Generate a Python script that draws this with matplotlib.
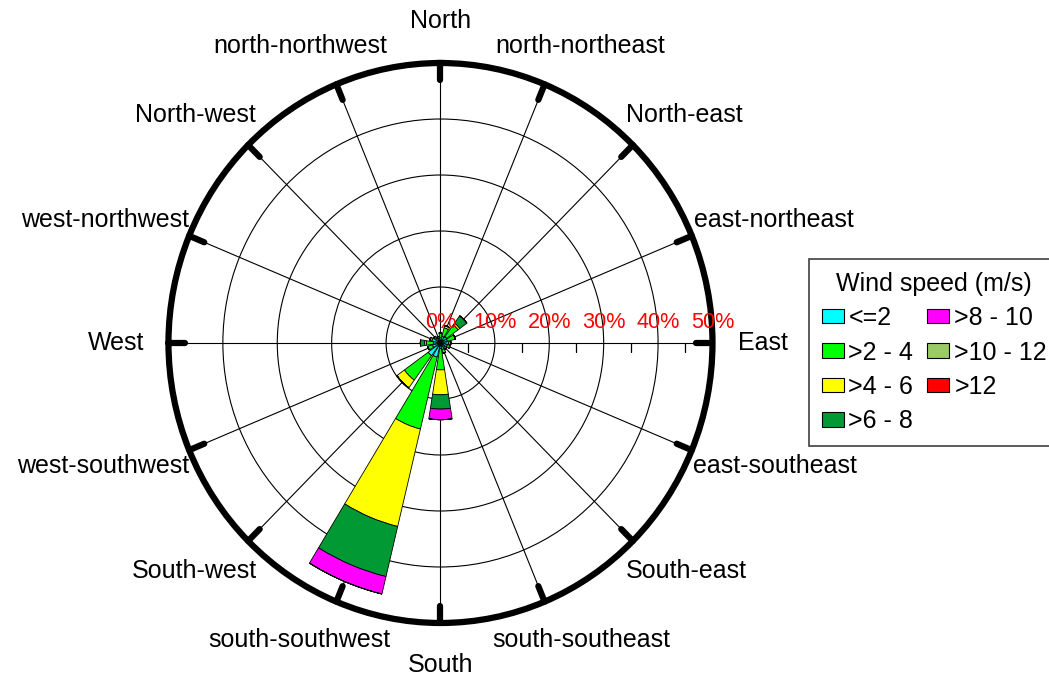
import numpy as np
import matplotlib.pyplot as plt
from matplotlib.patches import Patch

plt.rcParams['font.family'] = ['Liberation Sans', 'DejaVu Sans']

# wind rose configuration
directions = ["North", "north-northeast", "North-east", "east-northeast",
              "East", "east-southeast", "South-east", "south-southeast",
              "South", "south-southwest", "South-west", "west-southwest",
              "West", "west-northwest", "North-west", "north-northwest"]
speedClasses = ["<=2", ">2 - 4", ">4 - 6", ">6 - 8", ">8 - 10", ">10 - 12", ">12"]
speedColors = ["#00FFFF", "#00FF00", "#FFFF00", "#009933", "#FF00FF", "#99CC66", "#FF0000"]

# frequency (%) of each speed class, directions from North clockwise
speed0_2 = [1.0, 1.2, 1.4, 1.3, 1.5, 1.3, 1.0, 1.2, 1.0, 2.6, 2.8, 1.5, 1.3, 1.6, 1.1, 0.9]
speed2_4 = [0.8, 1.6, 2.6, 1.5, 0.4, 0.5, 0.4, 0.7, 3.8, 13.2, 5.4, 0.9, 1.3, 0.4, 0.4, 0.3]
speed4_6 = [0.0, 0.4, 0.4, 0.0, 0.0, 0.0, 0.0, 0.0, 4.45, 17.9, 1.7, 0.0, 0.3, 0.0, 0.0, 0.0]
speed6_8 = [0.0, 0.0, 1.6, 0.0, 0.0, 0.0, 0.0, 0.0, 2.55, 9.2, 0.0, 0.0, 0.8, 0.0, 0.0, 0.0]
speed8_10 = [0.0, 0.0, 0.0, 0.0, 0.0, 0.0, 0.0, 0.0, 1.9, 3.2, 0.0, 0.0, 0.0, 0.0, 0.0, 0.0]
speed10_12 = [0.0] * 16
speed12 = [0.0] * 16

radialTicks = [0, 10, 20, 30, 40, 50]
minorTicks = [5, 15, 25, 35, 45]

speedTable = [speed0_2, speed2_4, speed4_6, speed6_8, speed8_10, speed10_12, speed12]
theta = np.deg2rad(np.arange(len(directions)) * 22.5)
barWidth = np.deg2rad(18)
rMax = 50

fig = plt.figure(figsize=(10.49, 6.79), dpi=100)
ax = fig.add_axes([0.1606, 0.0825, 0.5186, 0.8247], projection='polar')
ax.set_aspect('auto')
ax.set_theta_zero_location('N')
ax.set_theta_direction(-1)
ax.set_ylim(0, rMax)

#grid: spokes and rings
ax.set_xticks(theta)
ax.set_yticks(radialTicks[1:-1])
ax.set_xticklabels([])
ax.set_yticklabels([])
ax.tick_params(length=0)
ax.grid(True, color='black', linewidth=0.8, linestyle='-')
ax.spines['polar'].set_linewidth(4.5)
ax.spines['polar'].set_zorder(6)

#stacked bars
bottom = np.zeros(len(directions))
for values, color in zip(speedTable, speedColors):
    values = np.array(values)
    ax.bar(theta, values, width=barWidth, bottom=bottom, color=color,
           edgecolor='black', linewidth=0.6, zorder=3)
    bottom += values

#thick direction marks on the outer ring
for t in theta:
    ax.plot([t, t], [47.0, rMax], color='black', linewidth=4.5,
            solid_capstyle='round', zorder=5, clip_on=False)

#minor ticks along the east radius
ax.plot([np.pi / 2] * len(minorTicks), minorTicks, linestyle='none',
        marker=3, markersize=6.5, markeredgewidth=0.9, color='black', zorder=4)

#percentage labels
for r in radialTicks:
    ax.annotate(str(r) + '%', xy=(np.pi / 2, r), xytext=(0, 15),
                textcoords='offset pixels', ha='center', va='baseline',
                color='red', fontsize=15.6, zorder=7, annotation_clip=False)

#direction labels, pushed outwards by part of their size
dirLabels = []
for t, name in zip(theta, directions):
    ann = ax.annotate(name, xy=(t, 56), xytext=(0, 0), textcoords='offset pixels',
                      ha='center', va='center', fontsize=18, annotation_clip=False)
    dirLabels.append(ann)

fig.canvas.draw()
renderer = fig.canvas.get_renderer()
push = 0.7
for ann, t in zip(dirLabels, theta):
    bb = ann.get_window_extent(renderer)
    ann.xyann = (push * bb.width / 2 * np.sin(t), push * bb.height / 2 * np.cos(t))

#legend
handles = [Patch(facecolor=c, edgecolor='black', linewidth=0.8) for c in speedColors]
leg = fig.legend(handles, speedClasses, title='Wind speed (m/s)', ncol=2,
                 loc='upper left', bbox_to_anchor=(809 / 1049, 1 - 259 / 679),
                 bbox_transform=fig.transFigure, borderaxespad=0,
                 fontsize=18, title_fontsize=18, frameon=True, fancybox=False,
                 edgecolor='#404040', framealpha=1, handlelength=0.88,
                 handleheight=0.52, handletextpad=0.2, labelspacing=0.42,
                 columnspacing=0.56, borderpad=0.5)
leg.get_frame().set_linewidth(1.2)

fig.savefig('out.png', dpi=100)
